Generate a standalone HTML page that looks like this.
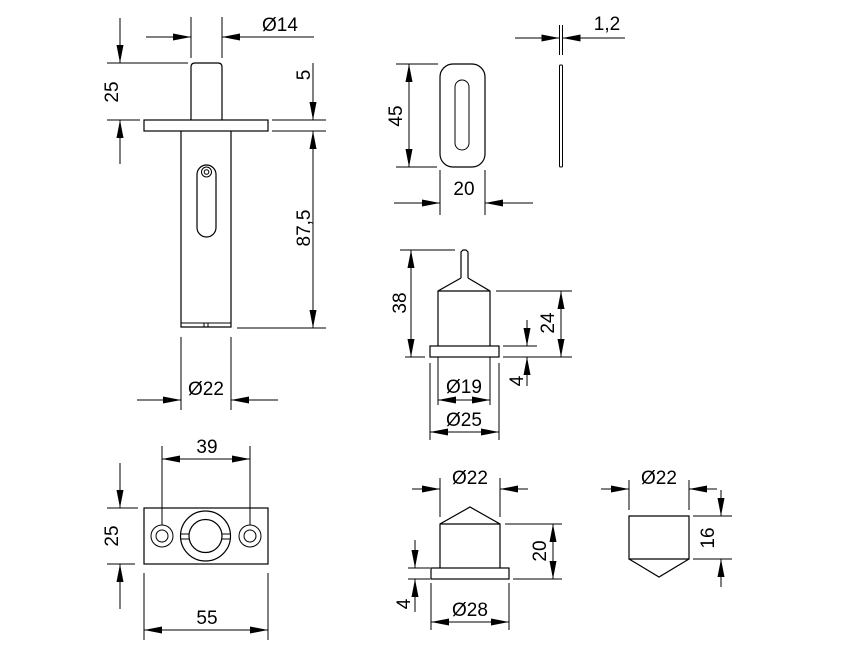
<!DOCTYPE html>
<html><head><meta charset="utf-8"><style>
html,body{margin:0;padding:0;background:#fff;}
svg{display:block;}
text{font-family:"Liberation Sans",Arial,sans-serif;font-size:19px;fill:#000;}
</style></head><body>
<svg width="844" height="671" viewBox="0 0 844 671" xmlns="http://www.w3.org/2000/svg">
<defs>
<marker id="a" markerUnits="userSpaceOnUse" markerWidth="20" markerHeight="10" refX="18" refY="3.5" orient="auto-start-reverse">
<path d="M0,0 L18,3.5 L0,7 z" fill="#000"/>
</marker>
</defs>
<g fill="none" stroke="#000" stroke-width="1">
<!-- Part 1 -->
<path d="M191,120 V67 Q191,63 195,63 H218 Q222,63 222,67 V120" stroke-width="1.2"/>
<rect x="144" y="120" width="124" height="11" stroke-width="1.2"/>
<path d="M181,131 V327 H231 V131" stroke-width="1.2"/>
<line x1="181" y1="323" x2="231" y2="323"/>
<path d="M204,323 V327 M208,323 V327"/>
<rect x="197" y="165" width="19" height="72" rx="9.5" stroke-width="1.2"/>
<circle cx="206.5" cy="172" r="5"/>
<circle cx="206.5" cy="172" r="2.3"/>
<!-- Ø14 -->
<path d="M191,17 V58 M222,17 V58"/>
<line x1="146" y1="37" x2="191" y2="37" marker-end="url(#a)"/>
<line x1="314" y1="37" x2="222" y2="37" marker-end="url(#a)"/>
<!-- 25 -->
<path d="M107,63 H188 M107,120 H140"/>
<line x1="120" y1="18" x2="120" y2="63" marker-end="url(#a)"/>
<line x1="120" y1="164" x2="120" y2="120" marker-end="url(#a)"/>
<!-- 5 / 87,5 -->
<path d="M272,120 H326 M272,131 H326 M237,328 H326"/>
<line x1="313" y1="63" x2="313" y2="120" marker-end="url(#a)"/>
<line x1="313" y1="131" x2="313" y2="328" marker-start="url(#a)" marker-end="url(#a)"/>
<!-- Ø22 -->
<path d="M181,337 V410 M231,337 V410"/>
<line x1="137" y1="400" x2="181" y2="400" marker-end="url(#a)"/>
<line x1="278" y1="400" x2="231" y2="400" marker-end="url(#a)"/>

<!-- Plate -->
<rect x="440" y="64" width="45" height="103" rx="13" stroke-width="1.2"/>
<rect x="455" y="80" width="14" height="70" rx="7"/>
<path d="M396,64 H438 M396,167 H437"/>
<line x1="409" y1="64" x2="409" y2="167" marker-start="url(#a)" marker-end="url(#a)"/>
<path d="M440,170 V215 M485,170 V215"/>
<line x1="394" y1="203" x2="440" y2="203" marker-end="url(#a)"/>
<line x1="533" y1="203" x2="485" y2="203" marker-end="url(#a)"/>
<rect x="559.5" y="65" width="3" height="102" rx="1"/>
<path d="M559.5,25 V55 M562.5,25 V55"/>
<line x1="515" y1="38" x2="559.5" y2="38" marker-end="url(#a)"/>
<line x1="625" y1="38" x2="562.5" y2="38" marker-end="url(#a)"/>

<!-- Knob 1 -->
<path d="M461,278 V252 L463,250 H466 L468,252 V278" stroke-width="1.2"/>
<path d="M461,278 L438,291 V346 M468,278 L490,291 V346 M438,291 H490" stroke-width="1.2"/>
<rect x="430" y="346" width="69" height="11" stroke-width="1.2"/>
<path d="M400,250 H455 M405,357 H425"/>
<line x1="411" y1="250" x2="411" y2="357" marker-start="url(#a)" marker-end="url(#a)"/>
<path d="M496,291 H572 M503,357 H572"/>
<line x1="561" y1="291" x2="561" y2="357" marker-start="url(#a)" marker-end="url(#a)"/>
<path d="M503,346 H537"/>
<line x1="527" y1="320" x2="527" y2="346" marker-end="url(#a)"/>
<line x1="527" y1="386" x2="527" y2="357" marker-end="url(#a)"/>
<path d="M438,357 V405 M490,357 V405"/>
<line x1="438" y1="400" x2="490" y2="400" marker-start="url(#a)" marker-end="url(#a)"/>
<path d="M430,363 V440 M499,363 V440"/>
<line x1="430" y1="432" x2="499" y2="432" marker-start="url(#a)" marker-end="url(#a)"/>

<!-- Base plate -->
<rect x="144" y="508" width="124" height="56" stroke-width="1.2"/>
<circle cx="162" cy="536" r="11"/><circle cx="162" cy="536" r="6"/>
<circle cx="250" cy="536" r="11"/><circle cx="250" cy="536" r="6"/>
<circle cx="205.5" cy="536" r="25" stroke-width="1.2"/>
<circle cx="205.5" cy="536" r="16.5" stroke-width="1.2"/>
<path d="M181,534 H189 M181,539 H189 M222,534 H230 M222,539 H230"/>
<path d="M162,446 V525 M250,446 V525"/>
<line x1="162" y1="459" x2="250" y2="459" marker-start="url(#a)" marker-end="url(#a)"/>
<path d="M107,508 H138 M107,564 H135"/>
<line x1="120" y1="463" x2="120" y2="508" marker-end="url(#a)"/>
<line x1="120" y1="609" x2="120" y2="564" marker-end="url(#a)"/>
<path d="M144,573 V640 M268,573 V640"/>
<line x1="144" y1="630" x2="268" y2="630" marker-start="url(#a)" marker-end="url(#a)"/>

<!-- Knob 2 -->
<path d="M440,568 V524 L470,507 L500,524 V568 M440,524 H500" stroke-width="1.2"/>
<rect x="431" y="568" width="78" height="11" stroke-width="1.2"/>
<path d="M440,478 V517 M500,478 V517"/>
<line x1="412" y1="489" x2="440" y2="489" marker-end="url(#a)"/>
<line x1="528" y1="489" x2="500" y2="489" marker-end="url(#a)"/>
<path d="M505,524 H562 M513,579 H562"/>
<line x1="553" y1="524" x2="553" y2="579" marker-start="url(#a)" marker-end="url(#a)"/>
<path d="M408,568 H430 M408,579 H430"/>
<line x1="415" y1="540" x2="415" y2="568" marker-end="url(#a)"/>
<line x1="415" y1="612" x2="415" y2="579" marker-end="url(#a)"/>
<path d="M431,583 V630 M509,583 V630"/>
<line x1="431" y1="622" x2="509" y2="622" marker-start="url(#a)" marker-end="url(#a)"/>

<!-- Part 6 -->
<path d="M629,559 V516 H689 V559 Z M629,559 L659,577 L689,559" stroke-width="1.2"/>
<path d="M629,480 V510 M689,480 V510"/>
<line x1="601" y1="489" x2="629" y2="489" marker-end="url(#a)"/>
<line x1="717" y1="489" x2="689" y2="489" marker-end="url(#a)"/>
<path d="M693,516 H732 M693,559 H732"/>
<line x1="721" y1="490" x2="721" y2="516" marker-end="url(#a)"/>
<line x1="721" y1="587" x2="721" y2="559" marker-end="url(#a)"/>
</g>

<g>
<text x="280" y="31" text-anchor="middle">Ø14</text>
<text transform="translate(118,92) rotate(-90)" text-anchor="middle">25</text>
<text transform="translate(310,75) rotate(-90)" text-anchor="middle">5</text>
<text transform="translate(310,228) rotate(-90)" text-anchor="middle">87,5</text>
<text x="206" y="395" text-anchor="middle">Ø22</text>
<text transform="translate(402,116) rotate(-90)" text-anchor="middle">45</text>
<text x="464" y="195" text-anchor="middle">20</text>
<text x="607" y="30" text-anchor="middle">1,2</text>
<text transform="translate(406,303) rotate(-90)" text-anchor="middle">38</text>
<text transform="translate(554,323) rotate(-90)" text-anchor="middle">24</text>
<text transform="translate(523,381) rotate(-90)" text-anchor="middle">4</text>
<text x="464" y="393" text-anchor="middle">Ø19</text>
<text x="464" y="426" text-anchor="middle">Ø25</text>
<text x="207" y="453" text-anchor="middle">39</text>
<text transform="translate(118,536) rotate(-90)" text-anchor="middle">25</text>
<text x="207" y="624" text-anchor="middle">55</text>
<text x="470" y="484" text-anchor="middle">Ø22</text>
<text transform="translate(546,551) rotate(-90)" text-anchor="middle">20</text>
<text transform="translate(410,604) rotate(-90)" text-anchor="middle">4</text>
<text x="470" y="616" text-anchor="middle">Ø28</text>
<text x="659" y="484" text-anchor="middle">Ø22</text>
<text transform="translate(714,538) rotate(-90)" text-anchor="middle">16</text>
</g>
</svg>
</body></html>
